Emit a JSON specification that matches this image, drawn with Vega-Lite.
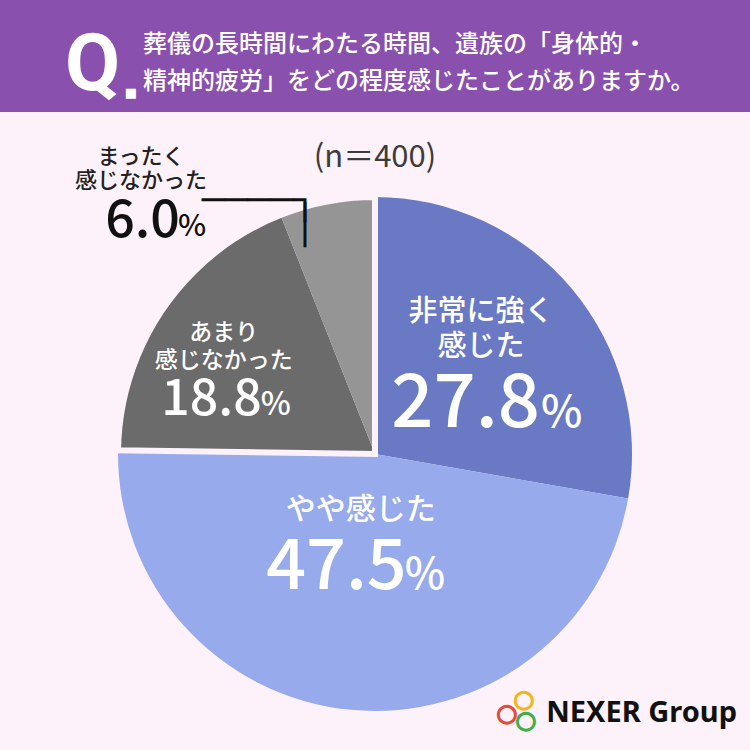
{
  "$schema": "https://vega.github.io/schema/vega-lite/v6.json",
  "background": "#fdf2f9",
  "padding": 0,
  "spacing": 46,
  "bounds": "flush",
  "config": {"view": {"stroke": null}, "font": "Noto Sans CJK JP"},
  "vconcat": [
    {
      "width": 750,
      "height": 112,
      "view": {"fill": "#8a50ae", "stroke": null},
      "data": {"values": [{"q": "Q", "question": "葬儀の長時間にわたる時間、遺族の「身体的・\n精神的疲労」をどの程度感じたことがありますか。"}]},
      "layer": [
        {
          "mark": {"type": "text", "font": "Roboto", "fontWeight": "bold", "fontSize": 80, "fill": "white", "align": "left", "baseline": "alphabetic", "dx": -310, "dy": 34},
          "encoding": {"text": {"field": "q"}}
        },
        {
          "mark": {"type": "text", "font": "DejaVu Sans", "fontSize": 13, "fill": "white", "align": "center", "baseline": "middle", "dx": -244, "dy": 37, "text": "■"}
        },
        {
          "mark": {"type": "text", "fontSize": 24, "fontWeight": 500, "lineHeight": 37, "lineBreak": "\n", "fill": "white", "align": "left", "baseline": "middle", "dx": -232, "dy": -11},
          "encoding": {"text": {"field": "question"}}
        }
      ]
    },
    {
      "width": 750,
      "height": 592,
      "data": {
        "values": [
          {"category": "非常に強く感じた", "label": "非常に強く\n感じた", "value": 27.8, "order": 1, "group": "感じた"},
          {"category": "やや感じた", "label": "やや感じた", "value": 47.5, "order": 2, "group": "感じた"},
          {"category": "あまり感じなかった", "label": "あまり\n感じなかった", "value": 18.8, "order": 3, "group": "感じなかった"},
          {"category": "まったく感じなかった", "label": "まったく\n感じなかった", "value": 6.0, "order": 4, "group": "感じなかった"}
        ]
      },
      "layer": [
        {
          "mark": {"type": "arc", "outerRadius": 257},
          "encoding": {
            "theta": {"field": "value", "type": "quantitative", "stack": true},
            "order": {"field": "order", "type": "quantitative"},
            "color": {
              "field": "category",
              "type": "nominal",
              "scale": {
                "domain": ["非常に強く感じた", "やや感じた", "あまり感じなかった", "まったく感じなかった"],
                "range": ["#6a79c4", "#97aaeb", "#6b6b6b", "#959595"]
              },
              "legend": null
            }
          }
        },
        {
          "transform": [
            {"aggregate": [{"op": "sum", "field": "value", "as": "value"}, {"op": "min", "field": "order", "as": "order"}], "groupby": ["group"]}
          ],
          "mark": {"type": "arc", "outerRadius": 257, "fill": "transparent", "stroke": "#fdf2f9"},
          "encoding": {
            "theta": {"field": "value", "type": "quantitative", "stack": true},
            "order": {"field": "order", "type": "quantitative"},
            "strokeWidth": {"condition": {"test": "datum.group === '感じなかった'", "value": 6}, "value": 0}
          }
        },
        {
          "mark": {"type": "text", "radius": 150, "fontSize": 29, "fontWeight": 500, "lineHeight": 35, "lineBreak": "\n", "fill": "white", "align": "center", "baseline": "middle", "dx": -9, "dy": -46},
          "encoding": {
            "theta": {"field": "value", "type": "quantitative", "stack": true},
            "order": {"field": "order", "type": "quantitative"},
            "text": {"condition": {"test": "datum.order === 1", "field": "label"}, "value": ""}
          }
        },
        {
          "mark": {"type": "text", "radius": 150, "fontSize": 74, "fontWeight": 500, "fill": "white", "align": "right", "baseline": "alphabetic", "dx": 50, "dy": 69},
          "encoding": {
            "theta": {"field": "value", "type": "quantitative", "stack": true},
            "order": {"field": "order", "type": "quantitative"},
            "text": {"condition": {"test": "datum.order === 1", "field": "value", "type": "quantitative", "format": ".1f"}, "value": ""}
          }
        },
        {
          "mark": {"type": "text", "radius": 150, "fontSize": 44, "fontWeight": 500, "fill": "white", "align": "left", "baseline": "alphabetic", "dx": 51, "dy": 69},
          "encoding": {
            "theta": {"field": "value", "type": "quantitative", "stack": true},
            "order": {"field": "order", "type": "quantitative"},
            "text": {"condition": {"test": "datum.order === 1", "value": "%"}, "value": ""}
          }
        },
        {
          "mark": {"type": "text", "radius": 120, "fontSize": 30, "fontWeight": 500, "fill": "white", "align": "center", "baseline": "middle", "dx": -3, "dy": -63},
          "encoding": {
            "theta": {"field": "value", "type": "quantitative", "stack": true},
            "order": {"field": "order", "type": "quantitative"},
            "text": {"condition": {"test": "datum.order === 2", "field": "label"}, "value": ""}
          }
        },
        {
          "mark": {"type": "text", "radius": 120, "fontSize": 70, "fontWeight": 500, "fill": "white", "align": "right", "baseline": "alphabetic", "dx": 43, "dy": 16},
          "encoding": {
            "theta": {"field": "value", "type": "quantitative", "stack": true},
            "order": {"field": "order", "type": "quantitative"},
            "text": {"condition": {"test": "datum.order === 2", "field": "value", "type": "quantitative", "format": ".1f"}, "value": ""}
          }
        },
        {
          "mark": {"type": "text", "radius": 120, "fontSize": 43, "fontWeight": 500, "fill": "white", "align": "left", "baseline": "alphabetic", "dx": 41, "dy": 16},
          "encoding": {
            "theta": {"field": "value", "type": "quantitative", "stack": true},
            "order": {"field": "order", "type": "quantitative"},
            "text": {"condition": {"test": "datum.order === 2", "value": "%"}, "value": ""}
          }
        },
        {
          "mark": {"type": "text", "radius": 179, "fontSize": 23, "fontWeight": 500, "lineHeight": 28, "lineBreak": "\n", "fill": "white", "align": "center", "baseline": "middle", "dx": -4, "dy": -19.5},
          "encoding": {
            "theta": {"field": "value", "type": "quantitative", "stack": true},
            "order": {"field": "order", "type": "quantitative"},
            "text": {"condition": {"test": "datum.order === 3", "field": "label"}, "value": ""}
          }
        },
        {
          "mark": {"type": "text", "radius": 179, "fontSize": 50, "fontWeight": 500, "fill": "white", "align": "right", "baseline": "alphabetic", "dx": 34, "dy": 62.5},
          "encoding": {
            "theta": {"field": "value", "type": "quantitative", "stack": true},
            "order": {"field": "order", "type": "quantitative"},
            "text": {"condition": {"test": "datum.order === 3", "field": "value", "type": "quantitative", "format": ".1f"}, "value": ""}
          }
        },
        {
          "mark": {"type": "text", "radius": 179, "fontSize": 32, "fontWeight": 500, "fill": "white", "align": "left", "baseline": "alphabetic", "dx": 33, "dy": 62.5},
          "encoding": {
            "theta": {"field": "value", "type": "quantitative", "stack": true},
            "order": {"field": "order", "type": "quantitative"},
            "text": {"condition": {"test": "datum.order === 3", "value": "%"}, "value": ""}
          }
        },
        {
          "transform": [{"filter": "datum.order === 4"}],
          "mark": {"type": "text", "fontSize": 22, "fontWeight": 500, "lineHeight": 24, "lineBreak": "\n", "fill": "#222222", "align": "center", "baseline": "middle", "dx": -234, "dy": -297},
          "encoding": {"text": {"field": "label"}}
        },
        {
          "transform": [{"filter": "datum.order === 4"}],
          "mark": {"type": "text", "fontSize": 52, "fontWeight": 500, "fill": "#111111", "align": "right", "baseline": "alphabetic", "dx": -195, "dy": -217},
          "encoding": {"text": {"field": "value", "type": "quantitative", "format": ".1f"}}
        },
        {
          "transform": [{"filter": "datum.order === 4"}],
          "mark": {"type": "text", "fontSize": 30, "fontWeight": 500, "fill": "#111111", "align": "left", "baseline": "alphabetic", "dx": -197, "dy": -218, "text": "%"}
        },
        {
          "transform": [{"filter": "datum.order === 4"}],
          "mark": {"type": "text", "font": "DejaVu Sans Mono", "fontSize": 38, "fill": "#111111", "align": "left", "baseline": "alphabetic", "dx": -173, "dy": -241, "text": "────┐"}
        },
        {
          "transform": [{"filter": "datum.order === 4"}],
          "mark": {"type": "text", "font": "DejaVu Sans Mono", "fontSize": 38, "fill": "#111111", "align": "center", "baseline": "alphabetic", "dx": -70, "dy": -216, "text": "│"}
        },
        {
          "transform": [{"filter": "datum.order === 1"}],
          "mark": {"type": "text", "fontSize": 31, "fill": "#3c3c3c", "align": "center", "baseline": "middle", "dy": -296, "text": "(n＝400)"}
        },
        {
          "transform": [{"filter": "datum.order === 1"}],
          "mark": {"type": "text", "font": "Noto Sans", "fontWeight": "bold", "fontSize": 29, "fill": "#111111", "align": "right", "baseline": "middle", "dx": 362, "dy": 259, "text": "NEXER Group"}
        },
        {
          "transform": [{"filter": "datum.order === 1"}],
          "mark": {"type": "text", "font": "DejaVu Sans", "fontSize": 24, "fill": "#e8473b", "stroke": "#e8473b", "strokeWidth": 1.5, "align": "center", "baseline": "middle", "dx": 132, "dy": 260, "text": "○"}
        },
        {
          "transform": [{"filter": "datum.order === 1"}],
          "mark": {"type": "text", "font": "DejaVu Sans", "fontSize": 24, "fill": "#f2b51c", "stroke": "#f2b51c", "strokeWidth": 1.5, "align": "center", "baseline": "middle", "dx": 149, "dy": 246, "text": "○"}
        },
        {
          "transform": [{"filter": "datum.order === 1"}],
          "mark": {"type": "text", "font": "DejaVu Sans", "fontSize": 24, "fill": "#3fae49", "stroke": "#3fae49", "strokeWidth": 1.5, "align": "center", "baseline": "middle", "dx": 151, "dy": 267, "text": "○"}
        }
      ]
    }
  ]
}
